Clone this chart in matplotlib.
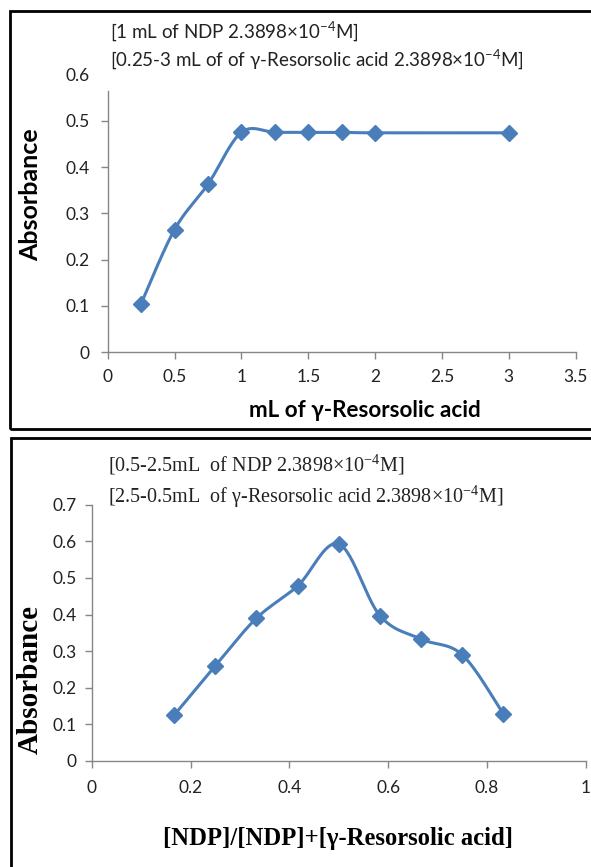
import numpy as np
import matplotlib
matplotlib.use("Agg")
import matplotlib.pyplot as plt
from matplotlib.patches import Rectangle

# top panel: mole-ratio style data
vol_acid = [0.25, 0.5, 0.75, 1.0, 1.25, 1.5, 1.75, 2.0, 3.0]
abs_top = [0.105, 0.265, 0.363, 0.475, 0.475, 0.475, 0.475, 0.474, 0.474]

# bottom panel: job's method data
mole_frac = [1/6, 0.25, 1/3, 5/12, 0.5, 7/12, 2/3, 0.75, 5/6]
abs_bot = [0.125, 0.26, 0.39, 0.478, 0.593, 0.397, 0.333, 0.29, 0.128]

blue = '#4a7ebb'
gray = '#868686'
sans = ['Lato', 'DejaVu Sans']
serif = ['Liberation Serif', 'DejaVu Serif']


def smooth(xs, ys, n=30):
    # excel-like smoothed line (catmull-rom through the data points)
    p = np.column_stack([xs, ys])
    p = np.vstack([p[0], p, p[-1]])
    out = []
    for i in range(1, len(p) - 2):
        p0, p1, p2, p3 = p[i - 1], p[i], p[i + 1], p[i + 2]
        c1 = p1 + (p2 - p0) / 6
        c2 = p2 - (p3 - p1) / 6
        t = np.linspace(0, 1, n)[:, None]
        seg = ((1 - t) ** 3) * p1 + 3 * ((1 - t) ** 2) * t * c1 + 3 * (1 - t) * t ** 2 * c2 + t ** 3 * p2
        out.append(seg)
    out = np.vstack(out)
    return out[:, 0], out[:, 1]


def style(ax, spine_top):
    for s in ['top', 'right']:
        ax.spines[s].set_visible(False)
    for s in ['left', 'bottom']:
        ax.spines[s].set_color(gray)
        ax.spines[s].set_linewidth(1.0)
    ax.spines['left'].set_bounds(0, spine_top)
    ax.tick_params(colors=gray, length=5, width=1.0, labelcolor='#222222', labelsize=12.5)
    for lab in ax.get_xticklabels() + ax.get_yticklabels():
        lab.set_family(sans)
    ax.set_facecolor('white')


fig = plt.figure(figsize=(5.91, 8.67), dpi=100)

# frames around each panel
fig.patches.append(Rectangle((0.0169, 0.5052), 1.0, 0.4821, transform=fig.transFigure,
                             fill=False, edgecolor='black', linewidth=2.0))
fig.patches.append(Rectangle((0.0186, -0.05), 1.0, 0.5448, transform=fig.transFigure,
                             fill=False, edgecolor='black', linewidth=2.0))

# ---- top panel
ax1 = fig.add_axes([0.1822, 0.5937, 0.7919, 0.3204])
sx, sy = smooth(vol_acid, abs_top)
ax1.plot(sx, sy, color=blue, lw=2.2)
ax1.plot(vol_acid, abs_top, 'D', color=blue, markersize=8.5)
ax1.set_xlim(0, 3.5)
ax1.set_ylim(0, 0.6)
ax1.set_xticks([0, 0.5, 1, 1.5, 2, 2.5, 3, 3.5])
ax1.set_xticklabels(['0', '0.5', '1', '1.5', '2', '2.5', '3', '3.5'])
ax1.set_yticks([0, 0.1, 0.2, 0.3, 0.4, 0.5, 0.6])
ax1.set_yticklabels(['0', '0.1', '0.2', '0.3', '0.4', '0.5', '0.6'])
style(ax1, 0.565)
ax1.yaxis.get_major_ticks()[-1].tick1line.set_visible(False)
ax1.tick_params(axis='x', pad=7)
ax1.tick_params(axis='y', pad=8)

fig.text(0.186, 0.963, r'[1 mL of NDP 2.3898×10$^{\mathdefault{-4}}$M]', family=sans,
         fontsize=13.5, va='center', ha='left', color='#222222')
fig.text(0.186, 0.931, r'[0.25-3 mL of of γ-Resorsolic acid 2.3898×10$^{\mathdefault{-4}}$M]',
         family=sans, fontsize=13.5, va='center', ha='left', color='#222222')
fig.text(0.617, 0.527, 'mL of γ-Resorsolic acid', family=sans, fontsize=16.2,
         fontweight='bold', ha='center', va='center')
fig.text(0.051, 0.775, 'Absorbance', family=sans, fontsize=18, fontweight='bold',
         rotation=90, ha='center', va='center')

# ---- bottom panel
ax2 = fig.add_axes([0.1552, 0.1223, 0.8360, 0.2955])
sx, sy = smooth(mole_frac, abs_bot)
ax2.plot(sx, sy, color=blue, lw=2.2)
ax2.plot(mole_frac, abs_bot, 'D', color=blue, markersize=8.5)
ax2.set_xlim(0, 1)
ax2.set_ylim(0, 0.7)
ax2.set_xticks([0, 0.2, 0.4, 0.6, 0.8, 1])
ax2.set_xticklabels(['0', '0.2', '0.4', '0.6', '0.8', '1'])
ax2.set_yticks([0, 0.1, 0.2, 0.3, 0.4, 0.5, 0.6, 0.7])
ax2.set_yticklabels(['0', '0.1', '0.2', '0.3', '0.4', '0.5', '0.6', '0.7'])
style(ax2, 0.7)
ax2.tick_params(axis='x', pad=9)
ax2.tick_params(axis='y', pad=6)

fig.text(0.183, 0.4637, r'[0.5-2.5mL  of NDP 2.3898×10$^{\mathdefault{-4}}$M]', family=serif,
         fontsize=14.5, va='center', ha='left', color='#222222')
fig.text(0.183, 0.4268, r'[2.5-0.5mL  of γ-Resorsolic acid 2.3898×10$^{\mathdefault{-4}}$M]',
         family=serif, fontsize=14.5, va='center', ha='left', color='#222222')
fig.text(0.572, 0.0334, '[NDP]/[NDP]+[γ-Resorsolic acid]', family=serif, fontsize=17.7,
         fontweight='bold', ha='center', va='center')
fig.text(0.051, 0.2157, 'Absorbance', family=serif, fontsize=21, fontweight='bold',
         rotation=90, ha='center', va='center')

fig.savefig('out.png', dpi=100, facecolor='white')
